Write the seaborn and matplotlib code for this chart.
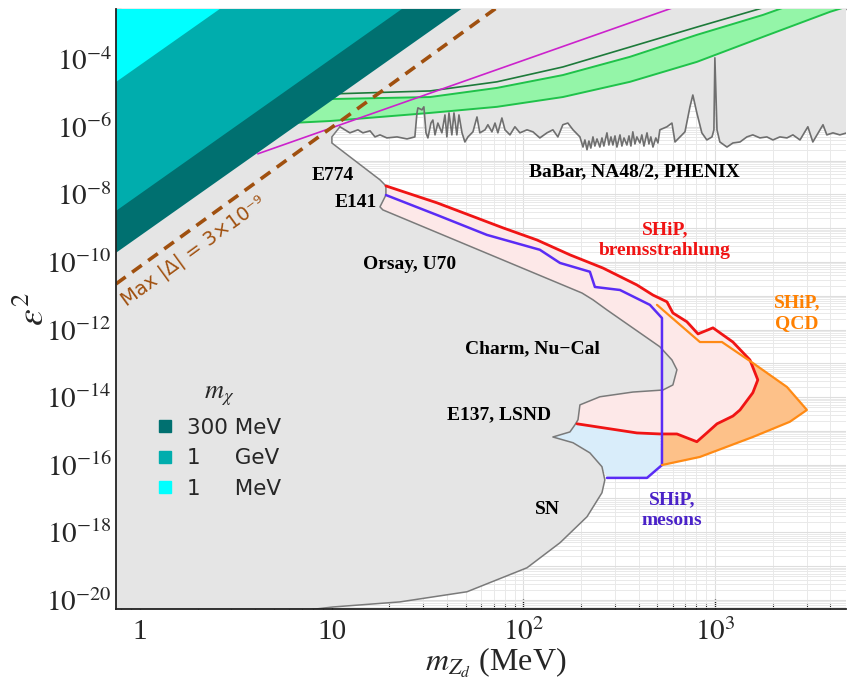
import numpy as np
import matplotlib
matplotlib.use("Agg")
import matplotlib.pyplot as plt
from matplotlib.ticker import LogLocator, FuncFormatter, NullFormatter
from matplotlib.lines import Line2D
import seaborn as sns

# ---------------- data (log10 of m_Zd [MeV], log10 of eps^2) ----------------
babar_lm = [1.043, 1.095, 1.137, 1.163, 1.200, 1.226, 1.252, 1.288, 1.341, 1.393,
            1.434, 1.445, 1.450, 1.471, 1.481, 1.492, 1.502, 1.518, 1.528, 1.539,
            1.554, 1.575, 1.591, 1.601, 1.612, 1.627, 1.638, 1.653, 1.664, 1.680,
            1.695, 1.711, 1.737, 1.758, 1.773, 1.800, 1.815, 1.836, 1.852, 1.867,
            1.888, 1.904, 1.930, 1.956, 1.982, 2.019, 2.050, 2.086, 2.123, 2.154,
            2.180, 2.206, 2.232, 2.259, 2.295, 2.311, 2.321, 2.332, 2.342, 2.352,
            2.363, 2.373, 2.384, 2.399, 2.410, 2.420, 2.436, 2.446, 2.457, 2.467,
            2.478, 2.488, 2.504, 2.514, 2.525, 2.540, 2.551, 2.561, 2.571, 2.582,
            2.592, 2.608, 2.618, 2.629, 2.645, 2.655, 2.665, 2.676, 2.691, 2.702,
            2.712, 2.749, 2.775, 2.791, 2.817, 2.843, 2.869, 2.884, 2.905, 2.931,
            2.957, 2.984, 2.994, 2.999, 3.010, 3.025, 3.062, 3.093, 3.130, 3.166,
            3.197, 3.234, 3.270, 3.302, 3.338, 3.375, 3.406, 3.443, 3.484, 3.510,
            3.563, 3.583, 3.615, 3.651, 3.688]
babar_le = [-6.00, -6.18, -6.09, -6.18, -6.12, -6.30, -6.24, -6.33, -6.30, -6.36,
            -6.30, -5.59, -5.44, -5.50, -5.41, -6.18, -6.33, -5.89, -5.80, -6.24,
            -5.89, -6.18, -5.65, -6.30, -5.59, -6.24, -5.59, -6.24, -5.65, -6.18,
            -6.45, -6.30, -6.15, -5.71, -6.18, -6.09, -5.94, -6.15, -5.89, -6.18,
            -5.74, -6.09, -6.24, -6.00, -6.18, -6.09, -6.15, -6.33, -6.18, -6.09,
            -6.30, -5.94, -5.89, -6.09, -6.30, -6.60, -6.39, -6.68, -6.42, -6.63,
            -6.30, -6.57, -6.36, -6.60, -6.33, -6.57, -6.18, -6.54, -6.30, -6.54,
            -6.27, -6.60, -6.24, -6.57, -6.33, -6.54, -6.27, -6.57, -6.15, -6.51,
            -6.30, -6.48, -6.24, -6.57, -6.18, -6.51, -6.30, -6.60, -6.33, -6.48,
            -6.09, -6.00, -5.89, -6.45, -6.30, -6.15, -5.41, -5.06, -5.59, -6.18,
            -6.39, -6.30, -6.09, -3.96, -6.09, -6.45, -6.60, -6.48, -6.45, -6.30,
            -6.24, -6.33, -6.30, -6.39, -6.30, -6.33, -6.24, -6.39, -6.00, -6.45,
            -5.94, -6.24, -6.18, -6.24, -6.18]

# beam-dump / SN exclusion boundary, from the top (m~10 MeV) down to the bottom
dump_lm = [1.043, 1.001, 1.001, 1.252, 1.283, 1.283, 1.252, 1.267, 2.306, 2.363,
           2.436, 2.712, 2.775, 2.801, 2.780, 2.728, 2.571, 2.399, 2.295, 2.285,
           2.269, 2.243, 2.154, 2.259, 2.347, 2.410, 2.425, 2.410, 2.332, 2.191,
           2.019, 1.706, 1.356, 1.007, 0.574]
dump_le = [-6.00, -6.30, -6.48, -7.57, -7.75, -8.02, -8.37, -8.46, -10.92, -11.12,
           -11.42, -12.51, -12.90, -13.19, -13.64, -13.79, -13.85, -13.99, -14.23, -14.67,
           -14.82, -15.03, -15.18, -15.35, -15.65, -16.06, -16.45, -16.83, -17.54, -18.31,
           -19.05, -19.76, -20.06, -20.21, -20.50]

# SHiP bremsstrahlung (red)
brems_lm = [1.283, 1.549, 1.893, 2.071, 2.243, 2.415, 2.592, 2.676, 2.749, 2.780,
            2.853, 2.911, 2.989, 3.093, 3.182, 3.223, 3.197, 3.130, 3.093, 3.010,
            2.957, 2.905, 2.801, 2.712, 2.592, 2.280]
brems_le = [-7.75, -8.25, -8.99, -9.35, -9.79, -10.18, -10.68, -10.98, -11.18, -11.51,
            -11.77, -12.13, -11.95, -12.37, -12.90, -13.49, -13.87, -14.38, -14.56, -14.79,
            -15.06, -15.32, -15.09, -15.09, -15.06, -14.79]

# SHiP mesons (blue)
mesons_lm = [1.283, 1.549, 1.810, 2.086, 2.191, 2.347, 2.373, 2.504, 2.660, 2.723,
             2.723, 2.645, 2.436]
mesons_le = [-8.02, -8.61, -9.20, -9.64, -10.03, -10.29, -10.74, -10.83, -11.27, -11.66,
             -16.01, -16.39, -16.39]

# SHiP QCD (orange)
qcd_lm = [2.697, 2.921, 3.036, 3.197, 3.375, 3.479, 3.390, 3.197, 2.921, 2.723]
qcd_le = [-11.27, -12.37, -12.37, -12.99, -13.70, -14.38, -14.73, -15.18, -15.77, -16.01]

# green band (upper thin line, band upper edge, band lower edge)
g_dark_lm = [0.835, 0.991, 1.513, 1.862, 2.206, 2.556, 2.905, 3.250, 3.312]
g_dark_le = [-5.06, -5.03, -4.94, -4.67, -4.23, -3.64, -3.05, -2.48, -2.30]
g_up_lm = [0.835, 0.991, 1.513, 1.862, 2.206, 2.556, 2.905, 3.250, 3.354, 3.401]
g_up_le = [-5.21, -5.18, -5.12, -4.85, -4.47, -3.93, -3.28, -2.69, -2.48, -2.30]
g_lo_lm = [0.782, 0.991, 1.513, 1.862, 2.206, 2.556, 2.905, 3.250, 3.599, 3.667, 3.703]
g_lo_le = [-5.89, -5.83, -5.59, -5.41, -5.12, -4.67, -4.08, -3.34, -2.60, -2.48, -2.30]

# magenta line and "Max |Delta|" dashed line
mag_lm = [0.615, 2.869]
mag_le = [-6.80, -2.30]
maxd_lm = [-0.125, 1.904]
maxd_le = [-10.65, -2.30]

# m_chi bands (lower edges, slope 4)
cyan_lm = [-0.20, 0.47]
cyan_le = [-4.975, -2.30]
mid_lm = [-0.20, 1.42]
mid_le = [-8.79, -2.30]
dark_lm = [-0.20, 1.73]
dark_le = [-10.03, -2.30]

legend_labels = ["300 MeV", "1\u2007\u2007 GeV", "1\u2007\u2007 MeV"]
legend_colors = ["#007070", "#00adad", "#00ffff"]

x_ticks = [1, 10, 100, 1000]
x_tick_labels = ["1", "10", r"$10^{2}$", r"$10^{3}$"]

# ---------------- style ----------------
sns.set_theme(style="white")
plt.rcParams['font.family'] = ['Liberation Serif', 'DejaVu Serif']
plt.rcParams['mathtext.fontset'] = 'stix'


def P(a):
    return np.power(10.0, np.asarray(a, dtype=float))


fig = plt.figure(figsize=(8.47, 6.96), dpi=100)
ax = fig.add_axes([116 / 847, 1 - 609 / 696, 730 / 847, 600 / 696])
ax.set_xscale('log')
ax.set_yscale('log')
ax.set_xlim(10 ** -0.125, 10 ** 3.683)
ax.set_ylim(10 ** -20.27, 10 ** -2.515)
ax.set_facecolor('white')

# grid
ax.xaxis.set_major_locator(LogLocator(base=10, numticks=100))
ax.xaxis.set_minor_locator(LogLocator(base=10, subs=np.arange(2, 10) * 1.0, numticks=100))
ax.yaxis.set_major_locator(LogLocator(base=10, numticks=100))
ax.yaxis.set_minor_locator(LogLocator(base=10, subs=np.arange(2, 10) * 1.0, numticks=100))
ax.grid(True, which='major', color='#dedede', lw=0.8, zorder=0)
ax.grid(True, which='minor', color='#e9e9e9', lw=0.7, zorder=0)
ax.set_axisbelow(True)

GREY = '#e5e5e5'
# SHiP fills
ax.fill(P(qcd_lm + [mesons_lm[9]]), P(qcd_le + [mesons_le[9]]),
        color='#fdc189', lw=0, zorder=1)
ax.fill(P(brems_lm + dump_lm[19:4:-1]), P(brems_le + dump_le[19:4:-1]),
        color='#fde8e8', lw=0, zorder=2)
ax.fill(P(brems_lm[:-5:-1][:3] + mesons_lm[10:] + dump_lm[25:19:-1]),
        P(brems_le[:-5:-1][:3] + mesons_le[10:] + dump_le[25:19:-1]),
        color='#d9edfa', lw=0, zorder=2)

# grey excluded region
gx = babar_lm + [3.75, 3.75, -0.2, -0.2] + dump_lm[::-1]
gy = babar_le + [babar_le[-1], -2.3, -2.3, -20.5] + dump_le[::-1]
ax.fill(P(gx), P(gy), color=GREY, lw=0, zorder=3)

# green band
ax.fill(P(g_up_lm + g_lo_lm[::-1]), P(g_up_le + g_lo_le[::-1]),
        color='#94f5a8', lw=0, zorder=4)


def line(xs, ys, **kw):
    sns.lineplot(x=P(xs), y=P(ys), sort=False, estimator=None, ax=ax, **kw)


line(g_up_lm, g_up_le, color='#1fc24a', lw=1.4, zorder=5)
line(g_lo_lm, g_lo_le, color='#1fc24a', lw=1.4, zorder=5)
line(g_dark_lm, g_dark_le, color='#1d7a3a', lw=1.2, zorder=5)

line(babar_lm, babar_le, color='#6f6f6f', lw=1.2, zorder=5)
line(dump_lm, dump_le, color='#7a7a7a', lw=1.1, zorder=5)

line(brems_lm, brems_le, color='#f01414', lw=2.0, zorder=6)
line(mesons_lm, mesons_le, color='#5a2cf5', lw=1.8, zorder=6)
line(qcd_lm, qcd_le, color='#ff8a14', lw=1.6, zorder=6)

line(mag_lm, mag_le, color='#cc22cc', lw=1.2, zorder=6)
line(maxd_lm, maxd_le, color='#a0500f', lw=2.6, zorder=6, dashes=(3.3, 2.2))

# m_chi bands
for lm, le, c in [(dark_lm, dark_le, legend_colors[0]),
                  (mid_lm, mid_le, legend_colors[1]),
                  (cyan_lm, cyan_le, legend_colors[2])]:
    ax.fill(P(lm + [lm[0]]), P(le + [le[-1]]), color=c, lw=0, zorder=7)

# text labels
def lab(lm, le, s, color='black', **kw):
    ax.text(10 ** lm, 10 ** le, s, ha='center', va='center', fontsize=14,
            fontweight='bold', color=color, zorder=9, linespacing=1.25, **kw)


lab(1.007, -7.455, "E774")
lab(1.127, -8.25, "E141")
lab(1.408, -10.09, "Orsay, U70")
lab(2.577, -7.335, "BaBar, NA48/2, PHENIX")
lab(2.045, -12.57, "Charm, Nu\u2212Cal")
lab(1.873, -14.53, "E137, LSND")
lab(2.123, -17.34, "SN")
lab(2.738, -9.35, "SHiP,\nbremsstrahlung", color='#f01414')
lab(3.427, -11.51, "SHiP,\nQCD", color='#ff8000')
lab(2.775, -17.34, "SHiP,\nmesons", color='#4a22c8')

ax.text(10 ** -0.070, 10 ** -11.30, "Max |\u0394| = 3\u00d710\u207b\u2079",
        rotation=36.0, rotation_mode='anchor', ha='left', va='baseline',
        fontsize=14, color='#a0500f', family=['DejaVu Sans'], zorder=9)

# legend
handles = [Line2D([], [], marker='s', ls='none', markersize=9, color=c) for c in legend_colors]
leg = ax.legend(handles, legend_labels, title=r"$m_\chi$", loc='upper left',
                bbox_to_anchor=(0.035, 0.405), frameon=False,
                prop={'family': ['DejaVu Sans'], 'size': 15.5},
                title_fontsize=19, handlelength=0.8, handletextpad=0.6,
                labelspacing=0.48, borderpad=0.2)
leg.set_zorder(10)

# axes, ticks
ax.set_xticks(x_ticks)
ax.set_xticklabels(x_tick_labels)
ax.xaxis.set_minor_formatter(NullFormatter())
ax.yaxis.set_major_formatter(FuncFormatter(
    lambda v, p: (r"$10^{%d}$" % int(round(np.log10(v)))) if int(round(np.log10(v))) % 2 == 0 else ""))
ax.yaxis.set_minor_formatter(NullFormatter())
ax.tick_params(axis='both', which='major', direction='in', length=7, width=1.0,
               labelsize=21, color='#222222', left=True, bottom=True)
ax.tick_params(axis='both', which='minor', direction='in', length=3.5, width=0.8,
               color='#222222', left=True, bottom=True)
ax.tick_params(axis='y', which='major', pad=3)
ax.tick_params(axis='x', which='major', pad=7)

for s in ['left', 'bottom']:
    ax.spines[s].set_color('#222222')
    ax.spines[s].set_linewidth(1.3)
    ax.spines[s].set_zorder(11)
ax.spines['top'].set_color('#999999')
ax.spines['top'].set_linewidth(1.0)
ax.spines['right'].set_visible(False)

ax.set_xlabel(r"$m_{Z_d}$ (MeV)", fontsize=23)
ax.set_ylabel(r"$\varepsilon^2$", fontsize=27)
ax.xaxis.set_label_coords(0.52, -0.062)
ax.yaxis.set_label_coords(-0.088, 0.5)

fig.savefig("out.png", dpi=100)
